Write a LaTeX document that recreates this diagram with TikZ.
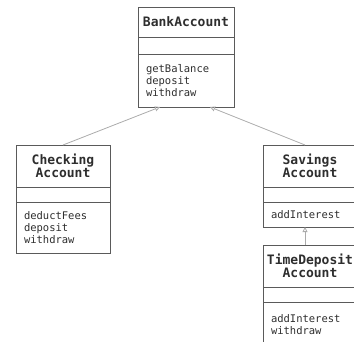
\documentclass[tikz,border=0pt]{standalone}
\usepackage{fontspec}
\setmonofont{DejaVu Sans Mono}
\usetikzlibrary{positioning,arrows.meta}
\definecolor{boxgray}{HTML}{5A5A5A}
\definecolor{linkgray}{HTML}{ABABAB}
\definecolor{textgray}{HTML}{2E2E2E}
\tikzset{
  umlpart/.style={draw=boxgray, line width=0.9pt, inner sep=0pt, outer sep=0pt, text=textgray},
  classtitle/.style={umlpart, text width=#1, align=center, font=\ttfamily\bfseries\fontsize{13}{13}\selectfont},
  classattr/.style={umlpart, minimum width=#1},
  classops/.style={umlpart, inner xsep=8pt, text width=#1, align=left, font=\ttfamily\fontsize{10.5}{11.7}\selectfont},
  generalize/.style={draw=linkgray, line width=0.8pt, -{Triangle[open, length=5pt, width=5pt]}}
}
\begin{document}
\begin{tikzpicture}[x=1pt, y=-1pt]
\useasboundingbox (0,0) rectangle (354,341);
\clip (0,0) rectangle (354,341);

% BankAccount
\node[classtitle=96pt, minimum height=30pt, anchor=north west] (bank) at (138,7) {BankAccount};
\node[classattr=96pt, minimum height=17pt, below=0pt of bank] (bankattr) {};
\node[classops=80pt, minimum height=53pt, below=0pt of bankattr] (bankops) {getBalance\\deposit\\withdraw};

% CheckingAccount
\node[classtitle=94pt, minimum height=42pt, anchor=north west] (check) at (16,145) {Checking\\Account};
\node[classattr=94pt, minimum height=15pt, below=0pt of check] (checkattr) {};
\node[classops=78pt, minimum height=51pt, below=0pt of checkattr] (checkops) {deductFees\\deposit\\withdraw};

% SavingsAccount
\node[classtitle=94pt, minimum height=42pt, anchor=north west] (save) at (263,145) {Savings\\Account};
\node[classattr=94pt, minimum height=15pt, below=0pt of save] (saveattr) {};
\node[classops=78pt, minimum height=25pt, below=0pt of saveattr] (saveops) {addInterest};

% TimeDepositAccount
\node[classtitle=94pt, minimum height=42pt, anchor=north west] (time) at (263,245) {TimeDeposit\\Account};
\node[classattr=94pt, minimum height=15pt, below=0pt of time] (timeattr) {};
\node[classops=78pt, minimum height=45pt, below=0pt of timeattr] (timeops) {addInterest\\withdraw};

\draw[generalize] (check.north) -- ([xshift=-26pt]bankops.south);
\draw[generalize] ([xshift=-5pt]save.north) -- ([xshift=24pt]bankops.south);
\draw[generalize] ([xshift=-5pt]time.north) -- ([xshift=-5pt]saveops.south);
\end{tikzpicture}
\end{document}
